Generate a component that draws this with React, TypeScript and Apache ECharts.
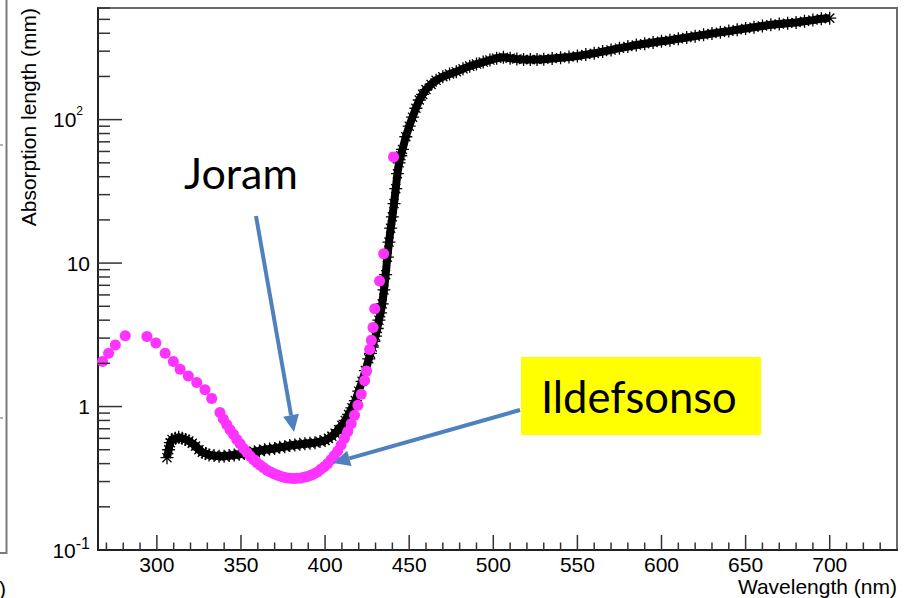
import React, { useEffect, useRef } from 'react';
import * as echarts from 'echarts';

// ---- data ----
const joramWavelength = [
  306, 307, 308, 309, 311, 313, 315, 317, 319, 321, 323, 325, 327, 329, 331, 334, 337, 340, 343, 346,
  349, 352, 355, 358, 361, 364, 367, 370, 373, 376, 379, 382, 385, 388, 391, 394, 397, 400, 402, 404,
  406, 408, 410, 412, 414, 416, 418, 420, 422, 424, 426, 427, 428, 429, 430, 431, 432, 433, 434, 435,
  436, 437, 438, 439, 440, 441, 442, 443, 444, 445, 446, 448, 450, 452, 454, 456, 458, 460, 463, 466,
  470, 474, 478, 482, 486, 490, 494, 498, 502, 506, 510, 514, 518, 522, 526, 530, 535, 540, 545, 550,
  555, 560, 565, 570, 575, 580, 585, 590, 595, 600, 605, 610, 615, 620, 625, 630, 635, 640, 645, 650,
  655, 660, 665, 670, 675, 680, 685, 690, 695, 700,
];
const joramLength = [
  0.44, 0.5, 0.56, 0.59, 0.6, 0.61, 0.6, 0.59, 0.575, 0.555, 0.53, 0.5, 0.48, 0.47, 0.46, 0.455, 0.45, 0.45, 0.455, 0.46,
  0.465, 0.47, 0.475, 0.485, 0.49, 0.5, 0.505, 0.51, 0.52, 0.525, 0.535, 0.54, 0.545, 0.55, 0.555, 0.56, 0.57, 0.58, 0.6, 0.62,
  0.65, 0.69, 0.74, 0.8, 0.88, 0.98, 1.1, 1.28, 1.5, 1.78, 2.15, 2.35, 2.6, 2.85, 3.1, 3.5, 4.0, 4.5, 5.2, 6.5,
  8.3, 11, 14, 17.5, 21, 26, 33, 42, 50, 56, 62, 76, 90, 104, 120, 137, 150, 162, 176, 188,
  199, 208, 216, 226, 236, 244, 252, 260, 268, 272, 268, 265, 263, 262, 263, 264, 267, 270, 273, 278,
  284, 290, 298, 306, 315, 323, 331, 338, 345, 352, 358, 366, 374, 382, 390, 398, 406, 414, 423, 432,
  441, 450, 458, 464, 470, 476, 485, 494, 505, 510,
];

const ildefonsoWavelength = [
  267.7, 271.3, 275.3, 281.2, 294.1, 299.4, 304.9, 309.8, 313.8, 318.7, 323.7, 328.6, 332.6, 337.5, 339.5,
  341.5, 343.5, 345.5, 347.5, 349.5, 351.5, 353.5, 355.5, 357.5, 359.5, 361.5, 363.5, 365.5, 367.5, 369.5,
  371.5, 373.5, 375.5, 377.5, 379.5, 381.5, 383.5, 385.5, 387.5, 389.5, 391.5, 393.5, 395.5, 397.5, 399.5,
  401.5, 403.5, 405.5, 407.5, 409.5, 411.5, 413.5, 415.5, 417.5, 419.5, 421.5, 423.5, 424.6, 426.5, 427.5,
  428.5, 429.5, 432.4, 434.8, 440.7,
];
const ildefonsoLength = [
  2.06, 2.35, 2.69, 3.11, 3.08, 2.77, 2.35, 2.06, 1.82, 1.63, 1.47, 1.31, 1.14, 0.91, 0.82,
  0.75, 0.69, 0.64, 0.59, 0.55, 0.51, 0.48, 0.45, 0.425, 0.405, 0.39, 0.375, 0.36, 0.35, 0.34,
  0.333, 0.327, 0.322, 0.318, 0.316, 0.315, 0.316, 0.318, 0.321, 0.326, 0.332, 0.34, 0.35, 0.365, 0.38,
  0.4, 0.425, 0.455, 0.49, 0.54, 0.6, 0.67, 0.76, 0.87, 1.02, 1.22, 1.52, 1.77, 2.5, 2.9,
  3.55, 4.8, 7.5, 11.6, 55,
];

const xMin = 265;
const xMax = 740;
const yMin = 0.1;
const yMax = 600;
const xTickLabels = [300, 350, 400, 450, 500, 550, 600, 650, 700];
const xTicks = [
  270, 280, 290, 300, 310, 320, 330, 340, 350, 360, 370, 380, 390, 400, 410, 420, 430, 440, 450, 460,
  470, 480, 490, 500, 510, 520, 530, 540, 550, 560, 570, 580, 590, 600, 610, 620, 630, 640, 650, 660,
  670, 680, 690, 700, 710, 720, 730,
];
const yTicks = [
  0.2, 0.3, 0.4, 0.5, 0.6, 0.7, 0.8, 0.9, 1, 2, 3, 4, 5, 6, 7, 8, 9, 10,
  20, 30, 40, 50, 60, 70, 80, 90, 100, 200, 300, 400, 500, 600,
];

const FONT = '"Liberation Sans", Arial, Helvetica, sans-serif';
const NOTE_FONT = 'Lato, "Open Sans", sans-serif';
const ARROW = '#4f81bd';

function arrow(x1: number, y1: number, x2: number, y2: number) {
  const dx = x2 - x1;
  const dy = y2 - y1;
  const L = Math.hypot(dx, dy);
  const ux = dx / L;
  const uy = dy / L;
  const head = 17;
  const hw = 8;
  const bx = x2 - ux * head;
  const by = y2 - uy * head;
  return [
    { type: 'line', z: 100, shape: { x1, y1, x2: bx, y2: by }, style: { stroke: ARROW, lineWidth: 4 } },
    {
      type: 'polygon', z: 100,
      shape: { points: [[x2, y2], [bx - uy * hw, by + ux * hw], [bx + uy * hw, by - ux * hw]] },
      style: { fill: ARROW },
    },
  ];
}

export default function App() {
  const ref = useRef<HTMLDivElement>(null);
  useEffect(() => {
    const chart = echarts.init(ref.current!, null, { renderer: 'svg' });
    const isPow10 = (v: number) => {
      const e = Math.log10(v);
      return Math.abs(e - Math.round(e)) < 1e-6;
    };
    const option: any = {
      animation: false,
      backgroundColor: '#fff',
      grid: {
        left: 98, top: 8, right: 16, bottom: 48,
        show: true, borderColor: '#6a6a6a', borderWidth: 2, backgroundColor: 'transparent',
        containLabel: false, outerBoundsMode: 'none',
      },
      xAxis: {
        type: 'value', min: xMin, max: xMax,
        axisLine: { show: true, onZero: false, lineStyle: { color: '#222', width: 2 } },
        axisTick: { show: false },
        splitLine: { show: false },
        axisLabel: {
          customValues: xTickLabels,
          color: '#000', fontSize: 21, fontFamily: FONT, margin: 4,
        },
      },
      yAxis: {
        type: 'log', logBase: 10, min: yMin, max: yMax,
        axisLine: { show: true, lineStyle: { color: '#222', width: 2 } },
        axisTick: { show: false },
        splitLine: { show: false },
        minorTick: { show: false },
        axisLabel: {
          margin: 8,
          formatter: (v: number) => {
            if (!isPow10(v)) return '';
            const e = Math.round(Math.log10(v));
            if (e === -1) return '{b|10}{m|-1}';
            if (e === 0) return '{b|1}';
            if (e === 1) return '{b|10}';
            return '{b|10}{s|' + e + '}';
          },
          rich: {
            b: { fontSize: 21, fontFamily: FONT, color: '#000', lineHeight: 30 },
            m: { fontSize: 16, fontFamily: FONT, color: '#000', verticalAlign: 'top' },
            s: { fontSize: 12, fontFamily: FONT, color: '#000', verticalAlign: 'top', padding: [0, 7, 0, 0] },
          },
        },
      },
      graphic: [
        // partial neighbouring panel at the left edge
        { type: 'polyline', shape: { points: [[6.5, 0], [6.5, 553], [0, 553]] }, style: { stroke: '#7a7a7a', lineWidth: 2, fill: 'none' } },
        { type: 'line', shape: { x1: 0, y1: 145, x2: 3, y2: 145 }, style: { stroke: '#999', lineWidth: 1.5 } },
        { type: 'line', shape: { x1: 0, y1: 418, x2: 3, y2: 418 }, style: { stroke: '#999', lineWidth: 1.5 } },
        { type: 'text', x: -1, y: 588, style: { text: ')', fontSize: 21, fontFamily: FONT, fill: '#000', align: 'left', verticalAlign: 'middle' } },
        // axis titles
        {
          type: 'text', x: 28, y: 8, rotation: Math.PI / 2,
          style: { text: 'Absorption length (mm)', fontSize: 21, fontFamily: FONT, fill: '#000', align: 'right', verticalAlign: 'middle' },
        },
        {
          type: 'text', x: 897, y: 576,
          style: { text: 'Wavelength (nm)', fontSize: 21, fontFamily: FONT, fill: '#000', align: 'right', verticalAlign: 'top' },
        },
        // annotations
        { type: 'text', z: 100, x: 184, y: 172, style: { text: 'Joram', fontSize: 43, fontFamily: NOTE_FONT, fill: '#000', align: 'left', verticalAlign: 'middle' } },
        ...arrow(256, 216, 294, 432),
        { type: 'rect', z: 99, shape: { x: 521, y: 357, width: 240, height: 78 }, style: { fill: '#ffff00' } },
        { type: 'text', z: 100, x: 541, y: 396, style: { text: 'Ildefsonso', fontSize: 43.5, fontFamily: NOTE_FONT, fill: '#000', align: 'left', verticalAlign: 'middle' } },
        ...arrow(520, 410, 333, 463),
      ],
      series: [
        {
          name: 'Joram', type: 'line', z: 2,
          data: joramWavelength.map((x, i) => [x, joramLength[i]]),
          symbol: 'path://M0,5L10,5M5,0L5,10M1.5,1.5L8.5,8.5M8.5,1.5L1.5,8.5',
          symbolSize: 13,
          lineStyle: { color: '#000', width: 8 },
          itemStyle: { color: '#000', borderColor: '#000', borderWidth: 1.3 },
          silent: true,
        },
        {
          name: 'Ildefonso', type: 'scatter', z: 3,
          data: ildefonsoWavelength.map((x, i) => [x, ildefonsoLength[i]]),
          symbol: 'circle', symbolSize: 11,
          itemStyle: { color: '#ff33ff', opacity: 1 },
          silent: true,
        },
        {
          name: 'yTicks', type: 'custom', z: 5, silent: true,
          data: yTicks.map((v) => [xMin, v]),
          renderItem: (_p: any, api: any) => {
            const v = api.value(1);
            const p = api.coord([api.value(0), v]);
            const len = isPow10(v) ? 24 : 12;
            return { type: 'line', shape: { x1: p[0], y1: p[1], x2: p[0] + len, y2: p[1] }, style: { stroke: '#333', lineWidth: 1.5 } };
          },
        },
        {
          name: 'xTicks', type: 'custom', z: 5, silent: true,
          data: xTicks.map((v) => [v, yMin]),
          renderItem: (_p: any, api: any) => {
            const v = api.value(0);
            const p = api.coord([v, api.value(1)]);
            const len = v % 50 === 0 ? 15 : 7.5;
            return { type: 'line', shape: { x1: p[0], y1: p[1], x2: p[0], y2: p[1] - len }, style: { stroke: '#333', lineWidth: 1.5 } };
          },
        },
      ],
    };
    chart.setOption(option);
    return () => chart.dispose();
  }, []);
  return (
    <div
      ref={ref}
      style={{ position: 'fixed', left: 0, top: 0, width: 913, height: 598, background: '#fff' }}
    />
  );
}
